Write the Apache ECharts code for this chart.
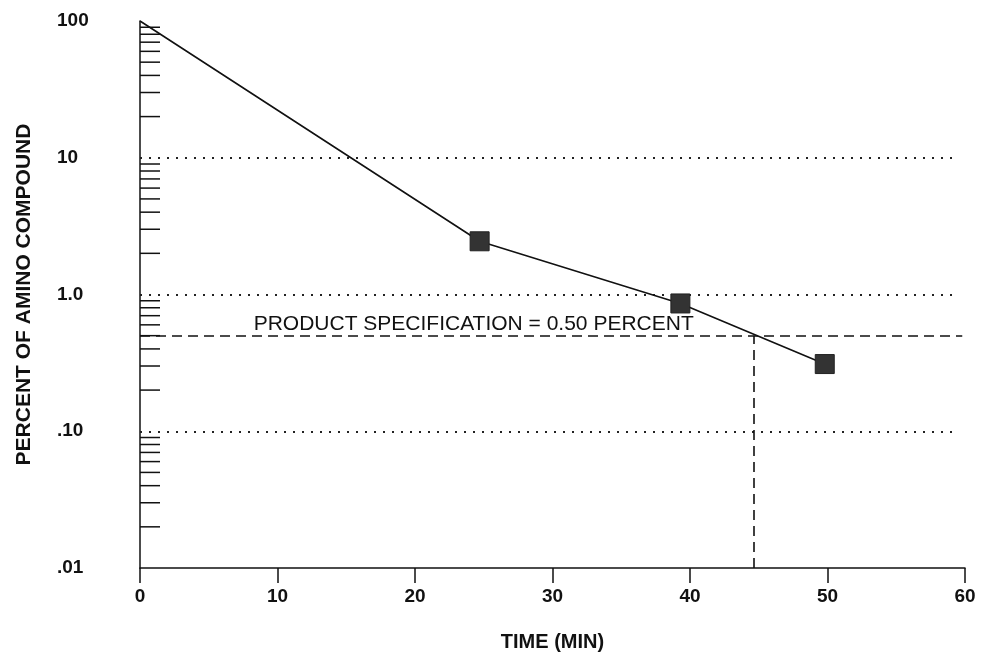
<!DOCTYPE html>
<html>
<head>
<meta charset="utf-8">
<script src="https://cdn.jsdelivr.net/npm/echarts@6/dist/echarts.min.js"></script>
<style>html,body{margin:0;padding:0;background:#fff}#c{width:982px;height:654px}</style>
</head>
<body>
<div id="c"></div>
<script>
// ---- data ----
const timeMin = [0, 24.7, 39.3, 49.8];
const percentAmino = [100, 2.45, 0.86, 0.31];
const markerShown = [false, true, true, true];
const gridValues = [10, 1, 0.1];
const specValue = 0.5;
const specTime = 44.6;
const specLabel = 'PRODUCT SPECIFICATION = 0.50 PERCENT';
const specLabelTime = 8.3;
const yTickLabels = {'0.01': '.01', '0.1': '.10', '1': '1.0', '10': '10', '100': '100'};
const xTicks = [0, 10, 20, 30, 40, 50, 60];
const minorDecades = [0.01, 0.1, 1, 10];
const minorMultipliers = [2, 3, 4, 5, 6, 7, 8, 9];

const minorTickValues = [];
minorDecades.forEach(d => minorMultipliers.forEach(m => minorTickValues.push(+(d * m).toPrecision(6))));

const chart = echarts.init(document.getElementById('c'));
const font = "'Liberation Sans', Arial, Helvetica, sans-serif";

const option = {
  backgroundColor: '#fff',
  animation: false,
  grid: {left: 140, right: 17, top: 21, bottom: 86, containLabel: false, outerBoundsMode: 'none'},
  xAxis: {
    type: 'value', min: xTicks[0], max: xTicks[xTicks.length - 1], interval: 10,
    axisLine: {show: true, lineStyle: {color: '#111', width: 1.5}},
    axisTick: {show: true, length: 15, lineStyle: {color: '#111', width: 1.5}},
    axisLabel: {margin: 19, color: '#111', fontFamily: font, fontWeight: 'bold', fontSize: 19},
    splitLine: {show: false},
    name: 'TIME (MIN)', nameLocation: 'middle', nameGap: 64,
    nameTextStyle: {color: '#111', fontFamily: font, fontWeight: 'bold', fontSize: 20}
  },
  yAxis: {
    type: 'log', logBase: 10, min: 0.01, max: 100,
    axisLine: {show: true, lineStyle: {color: '#111', width: 1.5}},
    axisTick: {show: false},
    axisLabel: {
      margin: 83, align: 'left', color: '#111', fontFamily: font, fontWeight: 'bold', fontSize: 19,
      formatter: v => yTickLabels[String(+v.toPrecision(6))] || ''
    },
    splitLine: {show: false},
    name: 'PERCENT OF AMINO COMPOUND', nameLocation: 'middle', nameGap: 105, nameRotate: 90,
    nameTextStyle: {color: '#111', fontFamily: font, fontWeight: 'bold', fontSize: 21}
  },
  series: [
    {
      type: 'custom',
      clip: false,
      silent: true,
      data: minorTickValues.map(v => [0, v]),
      renderItem: function (params, api) {
        const p = api.coord([0, api.value(1)]);
        return {
          type: 'line',
          shape: {x1: p[0], y1: p[1], x2: p[0] + 20, y2: p[1]},
          style: {stroke: '#111', lineWidth: 1.5}
        };
      }
    },
    {
      type: 'line',
      data: timeMin.map((t, i) => ({
        value: [t, percentAmino[i]],
        symbol: markerShown[i] ? 'rect' : 'none'
      })),
      symbolSize: 19,
      itemStyle: {color: '#333', borderColor: '#222', borderWidth: 1},
      lineStyle: {color: '#111', width: 1.6},
      z: 5,
      markLine: {
        silent: true, symbol: 'none', label: {show: false}, animation: false,
        data: gridValues.map(g => [
          {coord: [0, g], lineStyle: {type: [2, 7], width: 2, color: '#222'}},
          {coord: [59.5, g]}
        ]).concat([
          [{coord: [0, specValue], lineStyle: {type: [10, 6], width: 1.6, color: '#111'}}, {coord: [59.8, specValue]}],
          [{coord: [specTime, 0.01], lineStyle: {type: [10, 6], width: 1.6, color: '#111'}}, {coord: [specTime, specValue]}]
        ])
      },
      markPoint: {
        silent: true, symbol: 'circle', symbolSize: 1, itemStyle: {color: 'transparent'},
        data: [{
          coord: [specLabelTime, specValue],
          label: {
            show: true, formatter: specLabel, position: [0, -21], align: 'left',
            color: '#111', fontFamily: font, fontSize: 21
          }
        }]
      }
    }
  ]
};
chart.setOption(option);
</script>
</body>
</html>
